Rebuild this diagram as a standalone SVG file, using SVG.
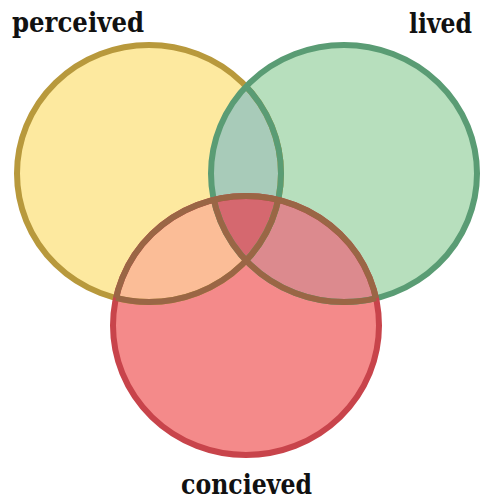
<svg xmlns="http://www.w3.org/2000/svg" width="481" height="501" viewBox="0 0 481 501">
<style>
.lbl{font-family:"DejaVu Serif","Liberation Serif",serif;font-weight:bold;fill:#111;font-size:27px}
.sw{stroke-width:6;fill:none}
</style>
<defs>
<ellipse id="eY" cx="149" cy="173.5" rx="132" ry="128.5"/>
<ellipse id="eG" cx="344" cy="173.5" rx="133" ry="128.5"/>
<ellipse id="eR" cx="246" cy="325.5" rx="133" ry="129.5"/>
<clipPath id="cY"><use href="#eY"/></clipPath>
<clipPath id="cG"><use href="#eG"/></clipPath>
<clipPath id="cR"><use href="#eR"/></clipPath>
<clipPath id="cYG"><use href="#eY"/><use href="#eG"/></clipPath>
</defs>
<rect width="481" height="501" fill="#fff"/>
<g id="perceived">
<use href="#eY" fill="#fde99f"/>
<text class="lbl" x="12" y="32" textLength="132" lengthAdjust="spacingAndGlyphs">perceived</text>
</g>
<g id="lived">
<use href="#eG" fill="#b7dfbd"/>
<text class="lbl" x="409" y="33" font-size="24" textLength="63" lengthAdjust="spacingAndGlyphs">lived</text>
</g>
<g id="concieved">
<use href="#eR" fill="#f48a8a"/>
<text class="lbl" x="181" y="494" font-size="26" textLength="131" lengthAdjust="spacingAndGlyphs">concieved</text>
</g>
<g id="overlaps">
<use href="#eG" fill="#a8cbb9" clip-path="url(#cY)"/>
<use href="#eR" fill="#fbbd97" clip-path="url(#cY)"/>
<use href="#eR" fill="#dc8a8e" clip-path="url(#cG)"/>
<g clip-path="url(#cG)"><use href="#eR" fill="#d5686f" clip-path="url(#cY)"/></g>
</g>
<g id="outlines">
<use href="#eY" class="sw" stroke="#b8993c"/>
<use href="#eG" class="sw" stroke="#5a9c74"/>
<use href="#eY" class="sw" stroke="#5a9c74" clip-path="url(#cG)"/>
<use href="#eR" class="sw" stroke="#c8444b"/>
<g clip-path="url(#cR)">
<use href="#eY" class="sw" stroke="#9a6645"/>
<use href="#eG" class="sw" stroke="#9a6645"/>
</g>
<use href="#eR" class="sw" stroke="#9a6645" clip-path="url(#cYG)"/>
</g>
</svg>
